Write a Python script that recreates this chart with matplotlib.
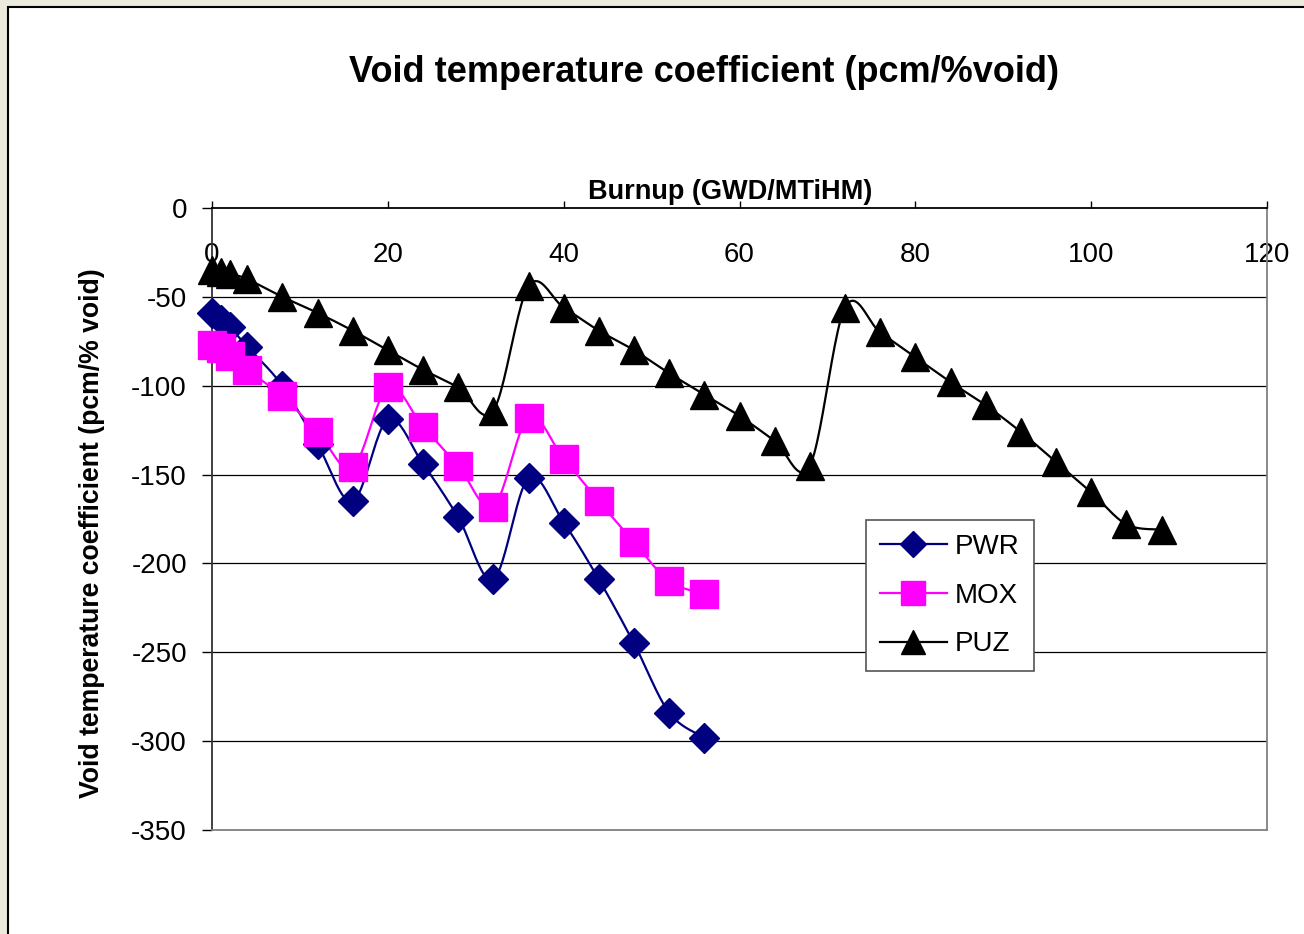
import numpy as np
import matplotlib.pyplot as plt
from matplotlib.lines import Line2D
from matplotlib.patches import Rectangle

plt.rcParams['font.family'] = ['Liberation Sans', 'DejaVu Sans']

# burnup steps (GWD/MTiHM) and void coefficients (pcm/% void)
burnup_pwr = [0, 1, 2, 4, 8, 12, 16, 20, 24, 28, 32, 36, 40, 44, 48, 52, 56]
pwr = [-59, -63, -67, -78, -100, -133, -165, -119, -144, -174, -209,
       -152, -177, -209, -245, -284, -298]

burnup_mox = [0, 1, 2, 4, 8, 12, 16, 20, 24, 28, 32, 36, 40, 44, 48, 52, 56]
mox = [-77, -79, -83, -91, -106, -126, -146, -101, -123, -145, -168,
       -118, -141, -165, -188, -210, -217]

burnup_puz = [0, 1, 2, 4, 8, 12, 16, 20, 24, 28, 32, 36, 40, 44, 48, 52, 56,
              60, 64, 68, 72, 76, 80, 84, 88, 92, 96, 100, 104, 108]
puz = [-35, -36, -37, -40, -50, -59, -69, -80, -91, -101, -114, -44, -56,
       -69, -80, -93, -105, -117, -131, -145, -56, -70, -84, -98, -111,
       -126, -143, -160, -178, -181]

x_ticks = [0, 20, 40, 60, 80, 100, 120]
y_ticks = [0, -50, -100, -150, -200, -250, -300, -350]


def smooth(x, y, n=25):
    # smoothed line through the points (cardinal bezier segments)
    p = np.column_stack([x, y]).astype(float)
    pts = np.vstack([p[0], p, p[-1]])
    t = np.linspace(0, 1, n)[:, None]
    out = []
    for i in range(1, len(pts) - 2):
        p0, p1, p2, p3 = pts[i - 1:i + 3]
        c1 = p1 + (p2 - p0) / 6
        c2 = p2 - (p3 - p1) / 6
        seg = ((1 - t) ** 3 * p1 + 3 * (1 - t) ** 2 * t * c1
               + 3 * (1 - t) * t ** 2 * c2 + t ** 3 * p2)
        out.append(seg if i == 1 else seg[1:])
    s = np.vstack(out)
    return s[:, 0], s[:, 1]


fig = plt.figure(figsize=(13.04, 9.34), dpi=100)
fig.patch.set_facecolor('#ECEADC')
fig.patches.append(Rectangle((8 / 1304, -0.01), 1.0, 1 - 7 / 934 + 0.01,
                             transform=fig.transFigure, facecolor='white',
                             edgecolor='black', linewidth=1.5, zorder=-10))

ax = fig.add_axes([212 / 1304, 1 - 830 / 934, (1267 - 212) / 1304, (830 - 208) / 934])
ax.set_facecolor('white')

series = [
    (burnup_pwr, pwr, '#000080', 'D', 15.5, 13, 'PWR'),
    (burnup_mox, mox, '#FF00FF', 's', 19.5, 17, 'MOX'),
    (burnup_puz, puz, 'black', '^', 20, 17, 'PUZ'),
]
handles = []
for bx, val, col, mk, ms, lms, name in series:
    sx, sy = smooth(bx, val)
    ax.plot(sx, sy, color=col, lw=1.6, zorder=3, clip_on=False)
    ax.plot(bx, val, ls='none', marker=mk, ms=ms, color=col, mec=col, zorder=4, clip_on=False)
    handles.append(Line2D([], [], color=col, lw=1.6, marker=mk, ms=lms, mec=col, label=name))

ax.set_xlim(0, 120)
ax.set_ylim(-350, 0)
ax.set_xticks(x_ticks)
ax.set_yticks(y_ticks)
ax.set_xticklabels([str(v) for v in x_ticks])
ax.set_yticklabels([str(v) for v in y_ticks])
ax.tick_params(axis='x', bottom=False, labelbottom=False, top=True, labeltop=True,
               direction='out', length=5, width=1, pad=-48, labelsize=20)
ax.tick_params(axis='y', direction='out', length=7, width=1, pad=11, labelsize=20)

for v in y_ticks[1:-1]:
    ax.axhline(v, color='black', lw=0.9, zorder=1)

ax.spines['top'].set_color('black')
ax.spines['top'].set_linewidth(1.3)
ax.spines['left'].set_color('#333333')
ax.spines['left'].set_linewidth(1.3)
ax.spines['right'].set_color('#808080')
ax.spines['bottom'].set_color('#808080')
ax.spines['right'].set_linewidth(1.3)
ax.spines['bottom'].set_linewidth(1.3)

fig.text(704 / 1304, 1 - 73 / 934, 'Void temperature coefficient (pcm/%void)',
         ha='center', va='center', fontsize=26, fontweight='bold')
fig.text(730 / 1304, 1 - 192 / 934, 'Burnup (GWD/MTiHM)',
         ha='center', va='center', fontsize=19.5, fontweight='bold')
fig.text(92 / 1304, 1 - 533 / 934, 'Void temperature coefficient (pcm/% void)',
         ha='center', va='center', rotation=90, fontsize=19.2, fontweight='bold')

leg = ax.legend(handles=handles, loc='upper left',
                bbox_to_anchor=(866 / 1304, 1 - 520 / 934), bbox_transform=fig.transFigure,
                fontsize=20, frameon=True, fancybox=False, framealpha=1,
                edgecolor='#555555', borderaxespad=0, handlelength=2.4,
                handletextpad=0.3, labelspacing=0.82, borderpad=0.5)
leg.get_frame().set_linewidth(1.2)

fig.savefig('out.png', dpi=100, facecolor=fig.get_facecolor())
